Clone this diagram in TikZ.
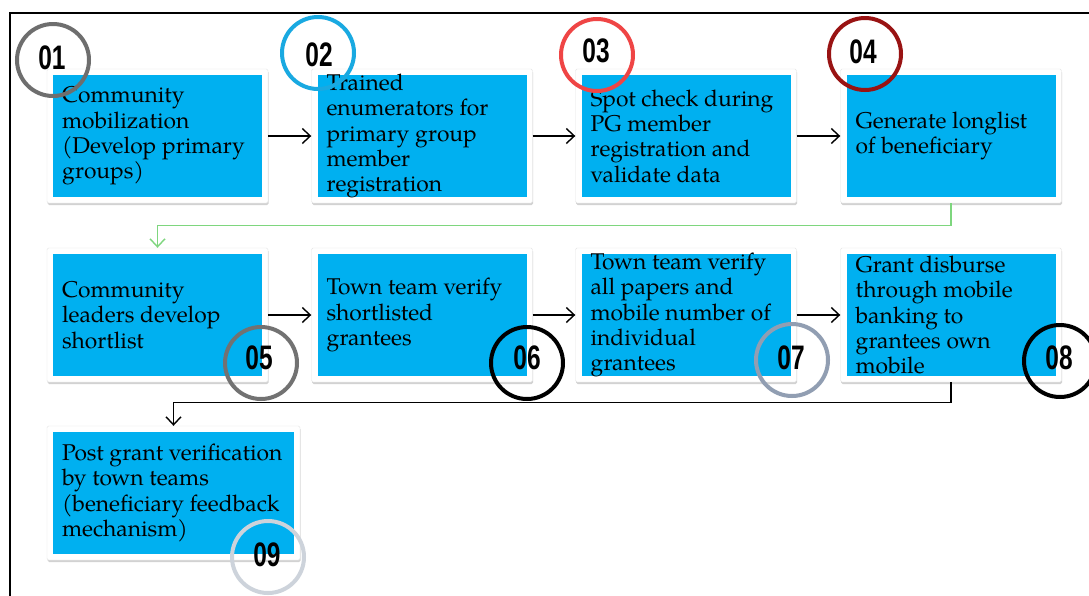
\documentclass[tikz,border=0pt]{standalone}
\usepackage{fontspec}
\usepackage{graphicx}
\setmainfont{TeX Gyre Pagella}
\newfontfamily\numfont{Liberation Sans}
\usetikzlibrary{arrows.meta,shadows,calc}
\definecolor{boxblue}{HTML}{00B0F0}
\definecolor{ringA}{HTML}{6E6E6E}
\definecolor{ringB}{HTML}{19A9E1}
\definecolor{ringC}{HTML}{EF4545}
\definecolor{ringD}{HTML}{991313}
\definecolor{ringE}{HTML}{727272}
\definecolor{ringG}{HTML}{919EB2}
\definecolor{ringI}{HTML}{CDD3DB}
\definecolor{flowgreen}{HTML}{7ED67E}
\newcommand\mystep[6]{%
  \node[card, minimum width=#4pt, minimum height=#5pt] (c#1) at (#2,#3) {};
  \node[bluebox, minimum width=#4pt-12pt, minimum height=#5pt-12pt] (b#1) at (c#1) {};
  \node[steptext] (t#1) at ([xshift=9pt]b#1.west) {#6};
}
\begin{document}
\begin{tikzpicture}[x=1pt,y=-1pt,
  card/.style={draw=black!10, fill=white, rounded corners=1.5pt,
    drop shadow={shadow xshift=0.6pt, shadow yshift=-2pt, opacity=0.35}, inner sep=0},
  bluebox/.style={fill=boxblue, inner sep=0},
  steptext/.style={font=\fontsize{22.8}{25.3}\selectfont, align=left, anchor=west, inner sep=0, text=black},
  ring/.style={line width=4pt, circle, minimum size=72pt, inner sep=0},
  num/.style={font=\numfont\bfseries\fontsize{34}{34}\selectfont, inner sep=0},
  flow/.style={line width=1.4pt, -{Straight Barb[length=8pt,width=15pt]}},
]
\useasboundingbox (0,0) rectangle (1089,595);
\fill[white] (0,0) rectangle (1089,595);
% frame
\draw[line width=2pt] (10,600) -- (10,13) -- (1095,13);

% row 1
\mystep{1}{157.5}{136}{221}{134}{Community\\mobilization\\(Develop primary\\groups)}
\mystep{2}{422}{136}{221}{134}{Trained\\enumerators for\\primary group\\member\\registration}
\mystep{3}{686}{136}{221}{134}{Spot check during\\PG member\\registration and\\validate data}
\mystep{4}{951}{136}{221}{134}{Generate longlist\\of beneficiary}
% row 2
\mystep{5}{157.5}{315}{221}{134}{Community\\leaders develop\\shortlist}
\mystep{6}{422}{315}{221}{134}{Town team verify\\shortlisted\\grantees}
\mystep{7}{686}{315}{221}{134}{Town team verify\\all papers and\\mobile number of\\individual\\grantees}
\mystep{8}{951}{315}{221}{134}{Grant disburse\\through mobile\\banking to\\grantees own\\mobile}
% row 3
\mystep{9}{173.5}{493}{253}{134}{Post grant verification\\by town teams\\(beneficiary feedback\\mechanism)}

% connectors
\draw[flow] (c1.east) -- (c2.west);
\draw[flow] (c2.east) -- (c3.west);
\draw[flow] (c3.east) -- (c4.west);
\draw[flow] (c5.east) -- (c6.west);
\draw[flow] (c6.east) -- (c7.west);
\draw[flow] (c7.east) -- (c8.west);
\draw[flow, draw=flowgreen] (c4.south) -- ++(0,22) -| (c5.north);
\draw[flow] (c8.south) -- ++(0,20) -| (c9.north);

% rings
\node[ring, draw=ringA] (r1) at (53,60) {};
\node[ring, draw=ringB] (r2) at (318,53) {};
\node[ring, draw=ringC] (r3) at (597,55) {};
\node[ring, draw=ringD] (r4) at (865,54) {};
\node[ring, draw=ringE] (r5) at (261,363) {};
\node[ring, draw=black] (r6) at (527,363) {};
\node[ring, draw=ringG] (r7) at (792,360) {};
\node[ring, draw=black] (r8) at (1060,361) {};
\node[ring, draw=ringI] (r9) at (268,557) {};

% numbers
\node[num] (n1) at (52,58) {\scalebox{0.72}[1]{01}};
\node[num] (n2) at (319,55) {\scalebox{0.72}[1]{02}};
\node[num] (n3) at (596,51) {\scalebox{0.72}[1]{03}};
\node[num] (n4) at (863,52) {\scalebox{0.72}[1]{04}};
\node[num] (n5) at (259,358) {\scalebox{0.72}[1]{05}};
\node[num] (n6) at (527,358) {\scalebox{0.72}[1]{06}};
\node[num] (n7) at (791,358) {\scalebox{0.72}[1]{07}};
\node[num] (n8) at (1059,358) {\scalebox{0.72}[1]{08}};
\node[num] (n9) at (267,555) {\scalebox{0.72}[1]{09}};
\end{tikzpicture}
\end{document}
